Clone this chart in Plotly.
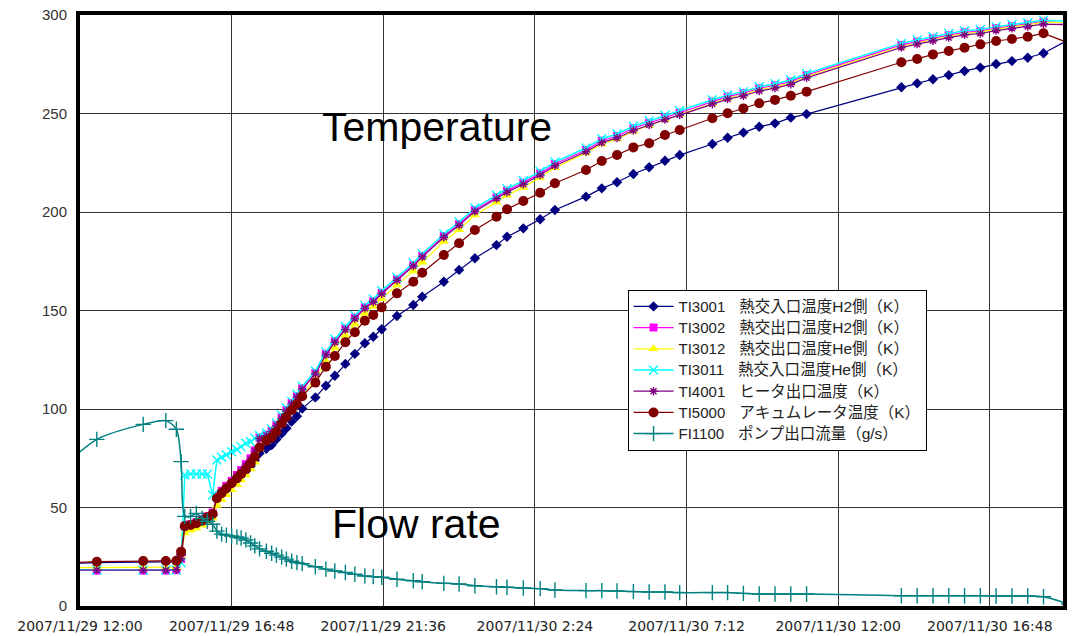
import pandas as pd
import plotly.graph_objects as go

# ---------------- data ----------------
times = [
    "2007-11-29 11:30", "2007-11-29 12:32", "2007-11-29 14:00", "2007-11-29 14:43",
    "2007-11-29 15:03", "2007-11-29 15:12", "2007-11-29 15:19", "2007-11-29 15:30",
    "2007-11-29 15:41", "2007-11-29 15:52", "2007-11-29 16:02", "2007-11-29 16:12",
    "2007-11-29 16:20", "2007-11-29 16:29", "2007-11-29 16:38", "2007-11-29 16:48",
    "2007-11-29 16:58", "2007-11-29 17:06", "2007-11-29 17:15", "2007-11-29 17:24",
    "2007-11-29 17:32", "2007-11-29 17:41", "2007-11-29 17:54", "2007-11-29 18:04",
    "2007-11-29 18:13", "2007-11-29 18:23", "2007-11-29 18:32", "2007-11-29 18:42",
    "2007-11-29 18:52", "2007-11-29 19:02", "2007-11-29 19:27", "2007-11-29 19:47",
    "2007-11-29 20:04", "2007-11-29 20:24", "2007-11-29 20:42", "2007-11-29 21:01",
    "2007-11-29 21:17", "2007-11-29 21:33", "2007-11-29 22:02", "2007-11-29 22:33",
    "2007-11-29 22:50", "2007-11-29 23:31", "2007-11-30 00:00", "2007-11-30 00:30",
    "2007-11-30 01:11", "2007-11-30 01:31", "2007-11-30 02:02", "2007-11-30 02:34",
    "2007-11-30 03:02", "2007-11-30 04:01", "2007-11-30 04:31", "2007-11-30 05:00",
    "2007-11-30 05:31", "2007-11-30 06:01", "2007-11-30 06:31", "2007-11-30 06:59",
    "2007-11-30 08:01", "2007-11-30 08:30", "2007-11-30 09:00", "2007-11-30 09:30",
    "2007-11-30 10:00", "2007-11-30 10:30", "2007-11-30 11:00", "2007-11-30 14:00",
    "2007-11-30 14:30", "2007-11-30 15:00", "2007-11-30 15:30", "2007-11-30 16:00",
    "2007-11-30 16:30", "2007-11-30 17:00", "2007-11-30 17:30", "2007-11-30 18:00",
    "2007-11-30 18:30", "2007-11-30 19:18",
]

TI3001 = [
    21.5, 22.0, 22.3, 22.3, 22.5, 26.0, 40.0, 40.8, 41.7, 43.0, 44.6, 46.3, 54.0, 56.8,
    59.2, 61.8, 64.2, 66.3, 68.5, 71.0, 74.0, 77.5, 79.8, 81.7, 84.6, 87.5, 90.2, 93.6,
    96.3, 100.2, 105.9, 111.8, 116.9, 122.9, 128.0, 133.4, 136.7, 140.5, 147.2, 152.8,
    157.0, 164.6, 170.6, 176.5, 183.2, 187.4, 191.7, 196.3, 201.0, 207.8, 212.0, 215.1,
    219.3, 222.7, 226.0, 228.9, 234.5, 237.7, 240.3, 243.3, 245.0, 247.9, 249.7, 263.3,
    265.3, 267.4, 269.5, 271.6, 273.3, 275.1, 276.6, 278.3, 280.6, 287.5,
]
TI3002 = [
    18.0, 18.0, 18.0, 18.0, 18.2, 24.0, 40.5, 41.5, 42.5, 44.0, 45.5, 47.5, 55.5, 58.5,
    61.0, 63.5, 66.5, 69.0, 72.0, 75.0, 79.0, 85.5, 87.0, 89.0, 92.0, 95.8, 99.5, 103.0,
    106.5, 110.5, 118.3, 128.0, 134.4, 140.8, 146.4, 151.6, 154.8, 159.0, 165.8, 173.1,
    177.7, 187.8, 193.9, 201.0, 207.5, 210.8, 214.9, 219.6, 224.4, 231.5, 236.2, 238.6,
    242.5, 245.3, 248.1, 250.4, 256.0, 258.6, 260.3, 262.8, 264.3, 266.2, 269.5, 284.8,
    286.5, 288.2, 289.8, 291.2, 291.8, 293.3, 294.4, 295.3, 296.6, 295.8,
]
TI3012 = [
    19.5, 19.5, 19.5, 19.5, 19.7, 25.0, 37.0, 38.5, 39.5, 41.0, 42.5, 44.5, 51.0, 54.0,
    56.5, 59.0, 61.5, 64.0, 66.5, 69.5, 73.0, 80.0, 83.5, 86.0, 89.0, 92.5, 96.0, 99.5,
    103.0, 107.0, 115.0, 124.5, 131.0, 137.5, 143.0, 148.5, 152.0, 156.0, 163.0, 170.0,
    174.5, 185.0, 191.0, 198.5, 205.0, 208.5, 212.5, 217.5, 222.5, 230.0, 234.5, 237.0,
    241.0, 244.0, 247.0, 249.5, 255.0, 257.8, 259.5, 262.0, 263.5, 265.5, 268.8, 284.0,
    285.8, 287.6, 289.2, 290.6, 291.3, 292.8, 294.0, 295.0, 296.3, 296.3,
]
TI3011 = [
    18.5, 18.3, 18.3, 18.3, 18.3, 22.0, 66.5, 67.0, 67.0, 67.0, 67.0, 56.3, 74.1, 75.5,
    76.6, 78.3, 79.5, 80.9, 82.6, 83.4, 85.1, 86.5, 87.8, 89.8, 92.8, 96.8, 100.5, 104.0,
    107.5, 111.5, 119.3, 129.0, 135.4, 141.8, 147.4, 152.6, 155.8, 160.0, 166.8, 174.1,
    178.7, 188.8, 194.9, 202.0, 208.5, 211.8, 215.9, 220.6, 225.4, 232.5, 237.2, 239.6,
    243.5, 246.3, 249.1, 251.4, 257.0, 259.4, 261.1, 263.6, 265.1, 267.0, 270.3, 285.6,
    287.3, 289.0, 290.6, 292.0, 292.6, 294.1, 295.2, 296.1, 297.3, 296.9,
]
TI4001 = [
    18.3, 18.2, 18.2, 18.2, 18.4, 24.0, 40.0, 41.0, 42.0, 43.5, 45.0, 47.0, 55.0, 58.0,
    60.5, 63.0, 66.0, 68.5, 71.5, 74.5, 78.5, 85.0, 86.5, 88.5, 91.5, 95.3, 99.0, 102.5,
    106.0, 110.0, 117.8, 127.5, 133.9, 140.3, 145.9, 151.1, 154.3, 158.5, 165.3, 172.6,
    177.2, 187.2, 193.3, 200.3, 206.8, 210.0, 214.1, 218.8, 223.5, 230.6, 235.2, 237.6,
    241.4, 244.2, 246.9, 249.2, 254.8, 257.3, 259.0, 261.4, 262.9, 264.8, 268.1, 283.5,
    285.2, 286.9, 288.5, 289.9, 290.6, 292.1, 293.2, 294.1, 295.4, 295.0,
]
TI5000 = [
    21.8, 22.5, 22.8, 22.8, 23.0, 27.6, 40.6, 41.1, 42.0, 43.3, 45.0, 46.7, 54.7, 57.3,
    59.7, 62.3, 64.8, 67.0, 69.4, 72.4, 75.8, 80.5, 83.9, 85.6, 88.5, 92.7, 96.0, 99.5,
    102.5, 106.5, 113.4, 121.5, 126.9, 133.9, 139.0, 144.8, 147.7, 151.6, 158.7, 164.6,
    169.2, 178.2, 184.1, 190.9, 197.6, 201.4, 205.6, 209.8, 214.6, 221.3, 225.9, 228.9,
    232.8, 234.9, 239.1, 241.6, 247.6, 250.1, 252.6, 255.2, 256.9, 259.0, 261.1, 276.0,
    277.7, 280.0, 281.7, 283.4, 285.1, 286.8, 287.8, 289.0, 290.7, 285.8,
]
FI1100 = [
    71.0, 84.6, 92.2, 94.1, 89.7, 73.3, 45.5, 45.5, 47.0, 44.5, 43.0, 41.5, 38.0, 36.5,
    36.0, 35.5, 35.0, 34.5, 33.5, 32.0, 30.5, 29.0, 27.8, 26.8, 25.8, 24.8, 23.8, 22.7,
    22.0, 21.5, 19.9, 18.7, 17.8, 17.0, 16.1, 15.2, 14.9, 14.6, 13.6, 12.8, 12.3, 11.5,
    11.2, 10.3, 9.8, 9.5, 9.1, 8.8, 8.1, 7.8, 7.8, 7.6, 7.3, 7.1, 7.1, 6.8, 6.8, 6.8,
    6.4, 6.1, 6.1, 6.1, 6.1, 5.2, 5.2, 5.2, 5.2, 5.2, 5.2, 5.1, 5.1, 5.1, 4.7, 1.0,
]

series_tags = ["TI3001", "TI3002", "TI3012", "TI3011", "TI4001", "TI5000", "FI1100"]
series_desc = [
    "熱交入口温度H2側（K）",
    "熱交出口温度H2側（K）",
    "熱交出口温度He側（K）",
    "熱交入口温度He側（K）",
    "ヒータ出口温度（K）",
    "アキュムレータ温度（K）",
    "ポンプ出口流量（g/s）",
]

x_tick_vals = [
    "2007-11-29 12:00", "2007-11-29 16:48", "2007-11-29 21:36", "2007-11-30 02:24",
    "2007-11-30 07:12", "2007-11-30 12:00", "2007-11-30 16:48",
]
x_tick_text = [
    "2007/11/29 12:00", "2007/11/29 16:48", "2007/11/29 21:36", "2007/11/30 2:24",
    "2007/11/30 7:12", "2007/11/30 12:00", "2007/11/30 16:48",
]
y_ticks = [0, 50, 100, 150, 200, 250, 300]

# ---------------- figure ----------------
t = pd.to_datetime(times)

styles = [
    dict(color="#000080", symbol="diamond", size=8, lw=1.2),
    dict(color="#FF00FF", symbol="square", size=8, lw=1.2),
    dict(color="#FFFF00", symbol="triangle-up", size=9, lw=1.2),
    dict(color="#00FFFF", symbol="x-thin-open", size=9, lw=1.5),
    dict(color="#800080", symbol="asterisk-open", size=7, lw=1.2),
    dict(color="#800000", symbol="circle", size=10, lw=1.2),
    dict(color="#008080", symbol="cross-thin-open", size=11, lw=1.5),
]
data = [TI3001, TI3002, TI3012, TI3011, TI4001, TI5000, FI1100]

fig = go.Figure()
for tag, desc, vals, st in zip(series_tags, series_desc, data, styles):
    is_flow = tag.startswith("FI")
    open_sym = st["symbol"].endswith("open")
    label = (f"<span style='font-size:15px'>{tag}</span>　"
             f"<span style='font-size:15.5px'>{desc}</span>")
    fig.add_trace(go.Scatter(
        x=t, y=vals, name=label, mode="lines+markers",
        line=dict(color=st["color"], width=st["lw"],
                  shape="spline" if is_flow else "linear",
                  smoothing=0.8 if is_flow else None),
        marker=dict(symbol=st["symbol"], size=st["size"], color=st["color"],
                    line=dict(color=st["color"], width=1.4 if open_sym else 0)),
    ))

fig.update_layout(
    width=1072, height=636,
    margin=dict(l=80, r=9, t=15, b=30, autoexpand=False),
    paper_bgcolor="white", plot_bgcolor="white",
    font=dict(family="Liberation Sans, Arial, sans-serif", color="#222"),
    showlegend=True,
    legend=dict(
        x=0.557, y=0.535, xanchor="left", yanchor="top",
        bgcolor="white", bordercolor="black", borderwidth=1,
        font=dict(family="Liberation Sans, Noto Sans CJK JP", size=14, color="#222"),
        tracegroupgap=0, itemwidth=40,
    ),
    xaxis=dict(
        range=["2007-11-29 12:00", "2007-11-30 19:07"],
        tickvals=x_tick_vals, ticktext=x_tick_text,
        showgrid=True, gridcolor="#333", gridwidth=1.3,
        showline=True, linecolor="black", linewidth=4, mirror=True,
        ticks="", ticklabelstandoff=4, automargin=False,
        tickfont=dict(family="DejaVu Sans, Arial", size=14, color="#222"),
        zeroline=False,
    ),
    yaxis=dict(
        range=[0, 300], tickvals=y_ticks,
        showgrid=True, gridcolor="#333", gridwidth=1.3,
        showline=True, linecolor="black", linewidth=4, mirror=True,
        ticks="", ticklabelstandoff=6, automargin=False,
        tickfont=dict(family="Liberation Sans, Arial", size=15, color="#333"),
        zeroline=False,
    ),
    annotations=[
        dict(text="Temperature", x=0.363, y=0.81, xref="paper", yref="paper",
             xanchor="center", yanchor="middle", showarrow=False,
             font=dict(family="Liberation Sans, Arial", size=41, color="black")),
        dict(text="Flow rate", x=0.342, y=0.139, xref="paper", yref="paper",
             xanchor="center", yanchor="middle", showarrow=False,
             font=dict(family="Liberation Sans, Arial", size=41, color="black")),
    ],
)

fig.write_html("out.html")
